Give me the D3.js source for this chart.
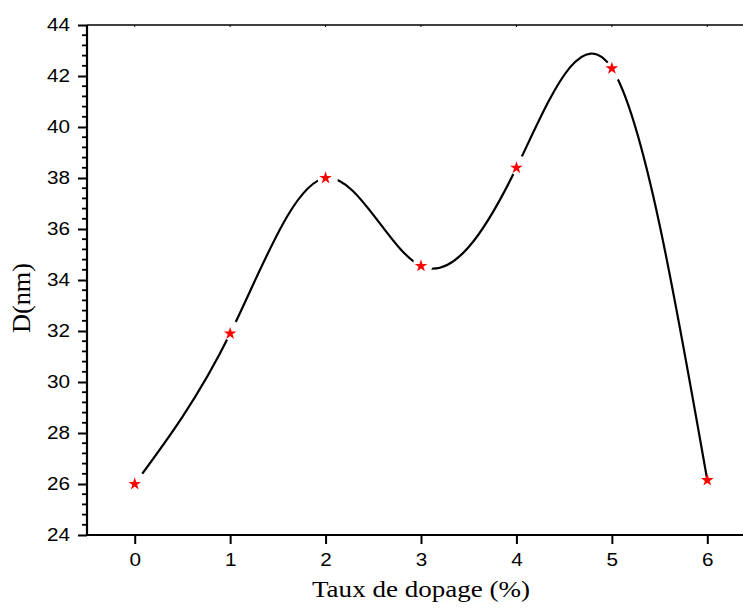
<!DOCTYPE html>
<html>
<head>
<meta charset="utf-8">
<script src="https://cdn.jsdelivr.net/npm/d3@7/dist/d3.min.js"></script>
<style>
html,body{margin:0;padding:0;background:#fff;}
svg{display:block;}
</style>
</head>
<body>
<script>
// Data
const dopage = [0, 1, 2, 3, 4, 5, 6];
const diametre = [26.0, 31.9, 38.0, 34.55, 38.4, 42.3, 26.15];
const yTicks = [24, 26, 28, 30, 32, 34, 36, 38, 40, 42, 44];
const xTicks = [0, 1, 2, 3, 4, 5, 6];
const xTitle = "Taux de dopage (%)";
const yTitle = "D(nm)";

const W = 743, H = 615;
const svg = d3.select("body").append("svg").attr("width", W).attr("height", H);

const x = d3.scaleLinear().domain([-0.5, 6.5]).range([87, 755]);
const y = d3.scaleLinear().domain([24, 44]).range([535, 25]);

// curve
const pts = dopage.map((d, i) => [x(d), y(diametre[i])]);
const line = d3.line().curve(d3.curveNatural);
svg.append("path").attr("d", line(pts))
  .attr("fill", "none").attr("stroke", "#000").attr("stroke-width", 2.2);

// gaps around symbols (offset toward next point)
pts.forEach((p, i) => {
  if (i === pts.length - 1) return;
  const q = pts[i + 1];
  const dx = q[0] - p[0], dy = q[1] - p[1];
  const L = Math.hypot(dx, dy);
  svg.append("circle")
    .attr("cx", p[0] + dx / L * 3)
    .attr("cy", p[1] + dy / L * 3)
    .attr("r", 10).attr("fill", "#fff");
});

// stars
svg.selectAll("path.star").data(pts).enter().append("path")
  .attr("class", "star")
  .attr("transform", d => `translate(${d[0]},${d[1]})`)
  .attr("d", d3.symbol().type(d3.symbolStar).size(50))
  .attr("fill", "#ff0000");

// top frame line
svg.append("line").attr("x1", 87).attr("x2", W).attr("y1", 25).attr("y2", 25)
  .attr("stroke", "#000").attr("stroke-width", 1.3);
svg.selectAll("line.tt").data(xTicks).enter().append("line")
  .attr("x1", d => x(d)).attr("x2", d => x(d)).attr("y1", 25).attr("y2", 27)
  .attr("stroke", "#000").attr("stroke-width", 1);

const SX = 1.15;
// y axis
const minorY = d3.range(24, 44.001, 0.4).filter(v => Math.abs(v / 2 - Math.round(v / 2)) > 0.01);
const gy = svg.append("g").attr("transform", "translate(87,0)");
gy.selectAll("line.ymin").data(minorY).enter().append("line")
  .attr("x1", -5).attr("x2", 0).attr("y1", d => y(d)).attr("y2", d => y(d))
  .attr("stroke", "#000").attr("stroke-width", 1.8);
gy.call(d3.axisLeft(y).tickValues(yTicks).tickSize(9).tickPadding(7).tickFormat(d3.format("d")));
gy.select(".domain").attr("d", `M0,${y(24)+1}V${y(44)}`).attr("stroke-width", 2.2);
gy.selectAll(".tick line").attr("stroke-width", 2);
gy.selectAll(".tick text").attr("font-family", "Liberation Sans, Arial, sans-serif")
  .attr("font-size", 18).attr("fill", "#000")
  .attr("x", -17 / SX).attr("transform", `scale(${SX},1)`);

// x axis
const gx = svg.append("g").attr("transform", "translate(0,535)");
gx.call(d3.axisBottom(x).tickValues(xTicks).tickSize(9).tickPadding(9).tickFormat(d3.format("d")));
gx.select(".domain").attr("d", `M${x(-0.5)-1},0H${W}`).attr("stroke-width", 2.2);
gx.selectAll(".tick line").attr("stroke-width", 2);
gx.selectAll(".tick text").attr("font-family", "Liberation Sans, Arial, sans-serif")
  .attr("font-size", 18).attr("fill", "#000")
  .attr("transform", `scale(${SX},1)`);

// titles
svg.append("text").attr("x", 421).attr("y", 597).attr("text-anchor", "middle")
  .attr("font-family", "Liberation Serif, Times New Roman, serif").attr("font-size", 24)
  .attr("textLength", 218).attr("lengthAdjust", "spacingAndGlyphs")
  .text(xTitle);
svg.append("text").attr("transform", "translate(30,298) rotate(-90)").attr("text-anchor", "middle")
  .attr("font-family", "Liberation Serif, Times New Roman, serif").attr("font-size", 25)
  .attr("textLength", 70).attr("lengthAdjust", "spacingAndGlyphs")
  .text(yTitle);
</script>
</body>
</html>
